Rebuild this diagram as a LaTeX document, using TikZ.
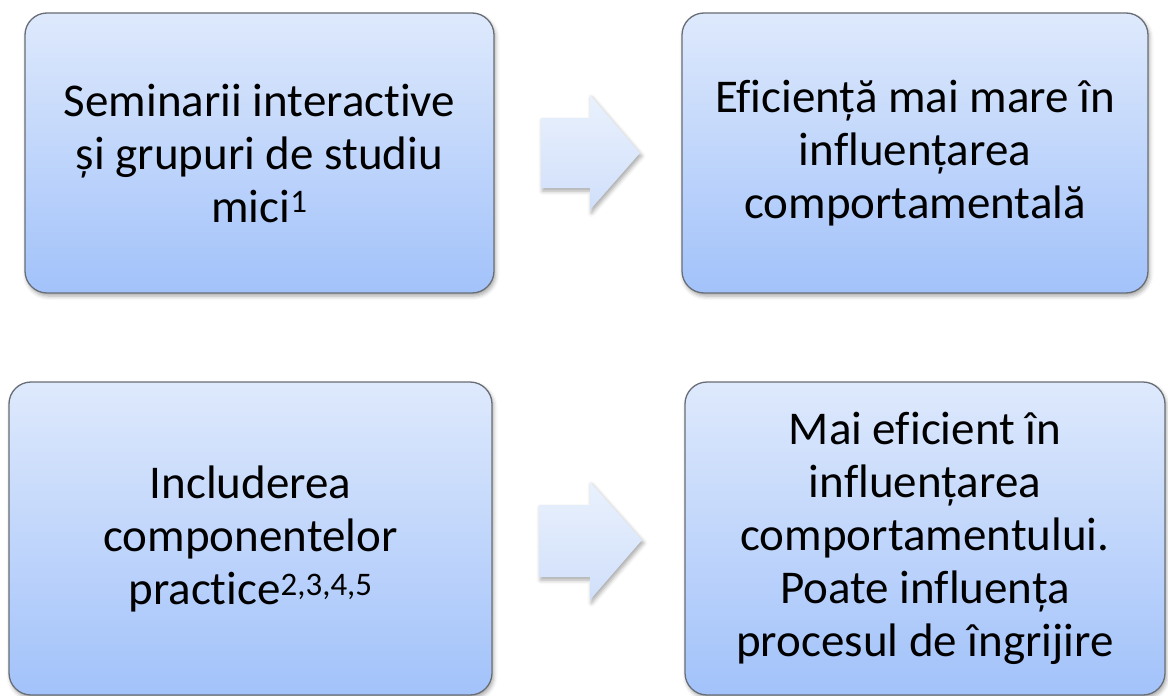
\documentclass[tikz,border=0pt]{standalone}
\usepackage{fontspec}
\setmainfont{Carlito}[Ligatures=NoCommon]
\usetikzlibrary{shadows.blur}
\definecolor{boxtop}{RGB}{222,233,252}
\definecolor{boxbot}{RGB}{162,194,250}
\definecolor{boxline}{RGB}{105,110,118}
\definecolor{arrtop}{RGB}{233,241,253}
\definecolor{arrbot}{RGB}{208,223,250}
\tikzset{
  softshadow/.style={blur shadow={shadow xshift=1.5pt, shadow yshift=-3pt, shadow blur radius=4pt, shadow opacity=35}},
  card/.style={draw=boxline, line width=1.3pt, rounded corners=22pt,
    top color=boxtop, bottom color=boxbot, align=center, text=black,
    font=\fontsize{47}{53}\selectfont, inner sep=0pt, softshadow},
  blockarrow/.style={top color=arrtop, bottom color=arrbot, draw=none, softshadow}
}
\begin{document}
\begin{tikzpicture}[x=1pt,y=-1pt]
\useasboundingbox (0,0) rectangle (1168,696);
\node[card, minimum width=469pt, minimum height=280pt] (a) at (259.5,153)
  {Seminarii interactive\\și grupuri de studiu\\mici\textsuperscript{1}};
\node[card, minimum width=466pt, minimum height=280pt] (b) at (915,153)
  {Eficiență mai mare în\\influențarea\\comportamentală};
\node[card, minimum width=483pt, minimum height=313pt] (c) at (250.5,538.5)
  {Includerea\\componentelor\\practice\textsuperscript{2,3,4,5}};
\node[card, minimum width=480pt, minimum height=313pt] (d) at (925,538.5)
  {Mai eficient în\\influențarea\\comportamentului.\\Poate influența\\procesul de îngrijire};
\path[blockarrow] (541,118) -- (590,118) -- (590,95) -- (640,153) -- (590,210) -- (590,188) -- (541,188) -- cycle;
\path[blockarrow] (539,505) -- (590,505) -- (590,482) -- (642,540) -- (590,600) -- (590,577) -- (539,577) -- cycle;
\end{tikzpicture}
\end{document}
